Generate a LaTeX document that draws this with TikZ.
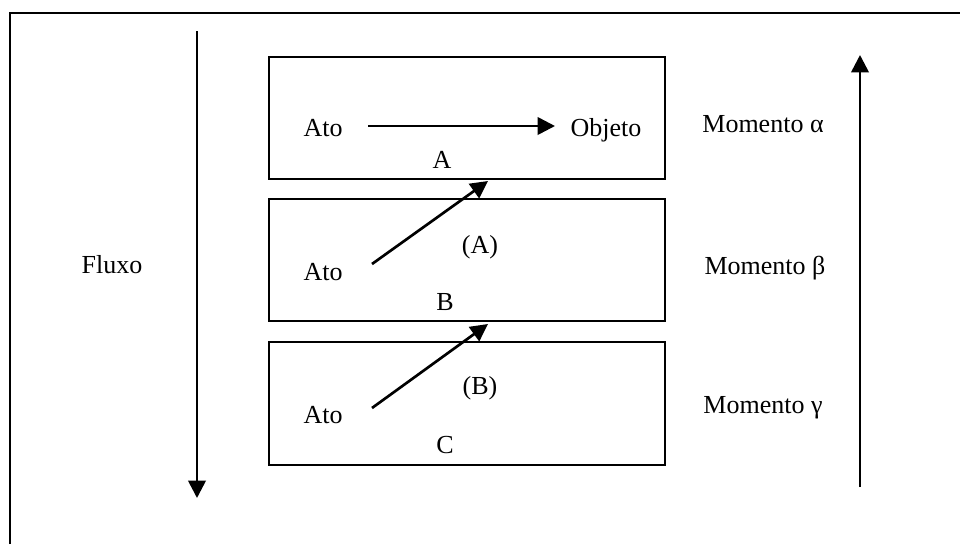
\documentclass[tikz,border=0pt]{standalone}
\usepackage{fontspec}
\setmainfont{Liberation Serif}
\usetikzlibrary{arrows.meta}

\tikzset{
  momentbox/.style={draw, line width=1.5pt, minimum width=297pt, minimum height=92pt, inner sep=0pt},
  flowarrow/.style={line width=2pt, -{Triangle[length=13pt, width=13pt]}},
  lbl/.style={inner sep=1pt, font=\fontsize{19.5}{23}\selectfont}
}

\begin{document}
\begin{tikzpicture}[x=0.75pt, y=-0.75pt]
		\useasboundingbox (0,0) rectangle (960,544);

		% Draw frame
		\draw[line width=1.5pt] (9.5,544) -- (9.5,12.5) -- (960,12.5);

		% Draw boxes
		\node[momentbox] (boxA) at (466.5,118) {};
		\node[momentbox] (boxB) at (466.5,260) {};
		\node[momentbox] (boxC) at (466.5,403.5) {};

		% Draw labels
		\node[lbl] (fluxo) at (112,265) {Fluxo};
		\node[lbl] (atoA) at (323,128) {Ato};
		\node[lbl] (objeto) at (606,130) {Objeto};
		\node[lbl] (nameA) at (442,160) {A};
		\node[lbl] (atoB) at (323,272) {Ato};
		\node[lbl] (refA) at (480,247) {(A)};
		\node[lbl] (nameB) at (445,302) {B};
		\node[lbl] (atoC) at (323,415) {Ato};
		\node[lbl] (refB) at (480,388) {(B)};
		\node[lbl] (nameC) at (445,445) {C};
		\node[lbl] (momA) at (763,124) {Momento α};
		\node[lbl] (momB) at (765,268) {Momento β};
		\node[lbl] (momC) at (763,408) {Momento γ};

		% Arrow ends
		\coordinate (fluxoTop) at (197,31);
		\coordinate (fluxoEnd) at (197,498);
		\coordinate (voltaStart) at (860,487);
		\coordinate (voltaEnd) at (860,55);
		\coordinate (startA) at (368,126);
		\coordinate (tipA) at (555,126);
		\coordinate (startB) at (372,264);
		\coordinate (tipB) at (488,181);
		\coordinate (startC) at (372,408);
		\coordinate (tipC) at (488,324);

		% Draw arrows
		\draw[flowarrow] (fluxoTop) -- (fluxoEnd);
		\draw[flowarrow] (voltaStart) -- (voltaEnd);
		\draw[flowarrow] (startA) -- (tipA);
		\draw[flowarrow] (startB) -- (tipB);
		\draw[flowarrow] (startC) -- (tipC);
	\end{tikzpicture}
\end{document}
